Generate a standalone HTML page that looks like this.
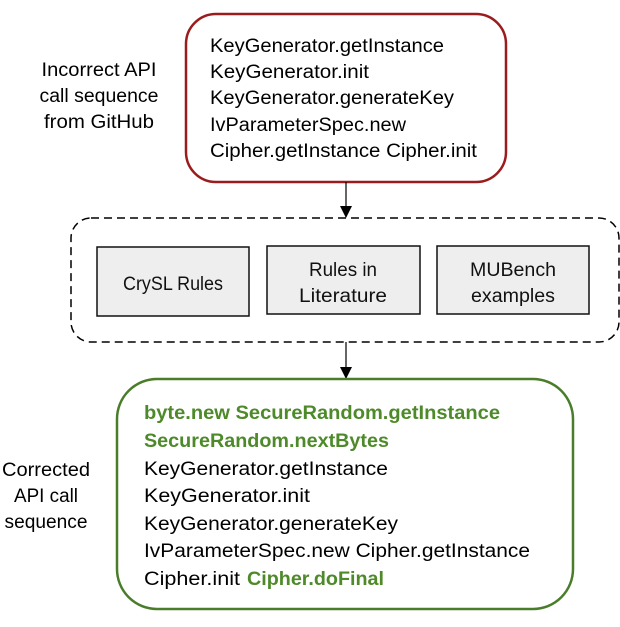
<!DOCTYPE html>
<html><head><meta charset="utf-8"><style>html,body{margin:0;padding:0;background:#fff}</style></head>
<body>
<svg width="620" height="622" viewBox="0 0 620 622" xmlns="http://www.w3.org/2000/svg" font-family="Liberation Sans, sans-serif" font-size="19">
<defs><marker id="a" markerWidth="12" markerHeight="12" refX="11" refY="6" orient="auto" markerUnits="userSpaceOnUse"><path d="M0,0 L12,6 L0,12 z" fill="#000"/></marker></defs>
<rect x="186" y="14" width="320" height="168" rx="30" fill="#fff" stroke="#9a1c1c" stroke-width="2.5"/>
<g fill="#000">
<text x="210" y="52" textLength="234" lengthAdjust="spacingAndGlyphs">KeyGenerator.getInstance</text>
<text x="210" y="78" textLength="159" lengthAdjust="spacingAndGlyphs">KeyGenerator.init</text>
<text x="210" y="104" textLength="244" lengthAdjust="spacingAndGlyphs">KeyGenerator.generateKey</text>
<text x="210" y="131" textLength="196" lengthAdjust="spacingAndGlyphs">IvParameterSpec.new</text>
<text x="210" y="157" textLength="267" lengthAdjust="spacingAndGlyphs">Cipher.getInstance Cipher.init</text>
</g>
<g text-anchor="middle">
<text x="99" y="76" textLength="115" lengthAdjust="spacingAndGlyphs">Incorrect API</text>
<text x="99" y="102" textLength="119" lengthAdjust="spacingAndGlyphs">call sequence</text>
<text x="99" y="128" textLength="110" lengthAdjust="spacingAndGlyphs">from GitHub</text>
<text x="46" y="476" textLength="88" lengthAdjust="spacingAndGlyphs">Corrected</text>
<text x="46" y="502" textLength="64" lengthAdjust="spacingAndGlyphs">API call</text>
<text x="46" y="528" textLength="83" lengthAdjust="spacingAndGlyphs">sequence</text>
</g>
<line x1="346" y1="182" x2="346" y2="217" stroke="#000" stroke-width="1.2" marker-end="url(#a)"/>
<rect x="71" y="218" width="548" height="124" rx="20" fill="none" stroke="#000" stroke-width="1.5" stroke-dasharray="8,5"/>
<g fill="#eeeeee" stroke="#111" stroke-width="1.5">
<rect x="97" y="247" width="152" height="69"/>
<rect x="267" y="246" width="153" height="68"/>
<rect x="437" y="246" width="152" height="68"/>
</g>
<g text-anchor="middle" fill="#111">
<text x="173" y="290" textLength="100" lengthAdjust="spacingAndGlyphs">CrySL Rules</text>
<text x="343" y="276" textLength="68" lengthAdjust="spacingAndGlyphs">Rules in</text>
<text x="343" y="302" textLength="88" lengthAdjust="spacingAndGlyphs">Literature</text>
<text x="513" y="276" textLength="86" lengthAdjust="spacingAndGlyphs">MUBench</text>
<text x="513" y="302" textLength="84" lengthAdjust="spacingAndGlyphs">examples</text>
</g>
<line x1="346" y1="342" x2="346" y2="378" stroke="#000" stroke-width="1.2" marker-end="url(#a)"/>
<rect x="117" y="379" width="456" height="230" rx="40" fill="#fff" stroke="#4a7d2a" stroke-width="2.5"/>
<g font-weight="bold" fill="#4e8a2a">
<text x="144" y="419" textLength="356" lengthAdjust="spacingAndGlyphs">byte.new SecureRandom.getInstance</text>
<text x="144" y="447" textLength="245" lengthAdjust="spacingAndGlyphs">SecureRandom.nextBytes</text>
<text x="247" y="585" textLength="137" lengthAdjust="spacingAndGlyphs">Cipher.doFinal</text>
</g>
<g fill="#000">
<text x="144" y="475" textLength="244" lengthAdjust="spacingAndGlyphs">KeyGenerator.getInstance</text>
<text x="144" y="502" textLength="166" lengthAdjust="spacingAndGlyphs">KeyGenerator.init</text>
<text x="144" y="530" textLength="254" lengthAdjust="spacingAndGlyphs">KeyGenerator.generateKey</text>
<text x="144" y="557" textLength="386" lengthAdjust="spacingAndGlyphs">IvParameterSpec.new Cipher.getInstance</text>
<text x="144" y="585" textLength="96" lengthAdjust="spacingAndGlyphs">Cipher.init</text>
</g>
</svg>
</body></html>
